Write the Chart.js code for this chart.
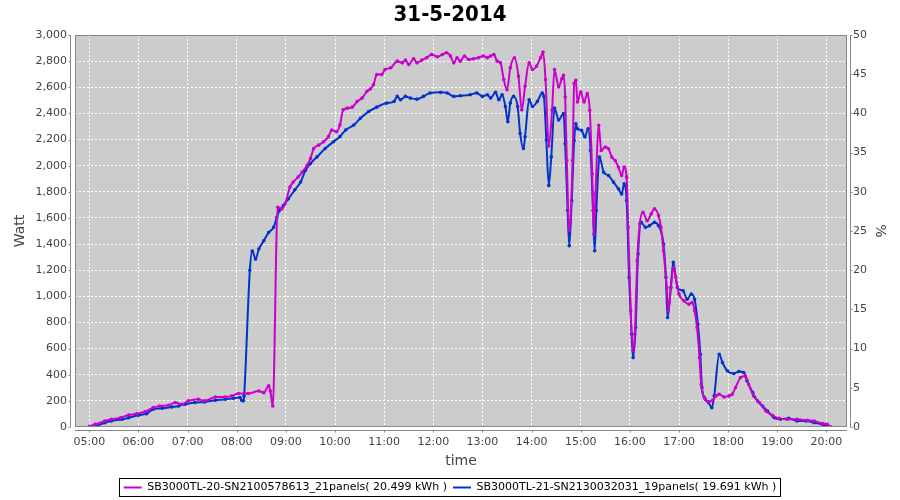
<!DOCTYPE html>
<html>
<head>
<meta charset="utf-8">
<script src="https://cdn.jsdelivr.net/npm/chart.js@4.4.0/dist/chart.umd.min.js"></script>
<style>
  html, body { margin: 0; padding: 0; background: #fff; }
</style>
</head>
<body>
<canvas id="pvChart" width="900" height="500"></canvas>
<script>
// Titre et noms des onduleurs
const chartTitle = "31-5-2014";
const seriesNames = [
  "SB3000TL-20-SN2100578613_21panels( 20.499 kWh )",
  "SB3000TL-21-SN2130032031_19panels( 19.691 kWh )"
];

// Axe du temps (heures affichées)
const hourTicks = [5, 6, 7, 8, 9, 10, 11, 12, 13, 14, 15, 16, 17, 18, 19, 20];

// Onduleur SB3000TL-20 (magenta)
const inv20Times = ['05:00','05:07','05:19','05:27','05:38','05:48','05:58','06:08','06:18','06:26','06:37','06:45','06:53','07:01','07:13','07:21','07:34','07:46','07:54','08:02','08:14','08:27','08:33','08:39','08:41','08:44','08:50','08:55','08:59','09:05','09:09','09:15','09:20','09:26','09:30','09:34','09:40','09:46','09:52','09:56','10:02','10:06','10:10','10:15','10:21','10:27','10:33','10:39','10:43','10:47','10:51','10:57','11:01','11:08','11:16','11:22','11:26','11:30','11:36','11:40','11:46','11:52','11:58','12:05','12:11','12:16','12:21','12:25','12:29','12:33','12:38','12:43','12:49','12:55','13:01','13:06','13:10','13:14','13:18','13:22','13:26','13:30','13:34','13:39','13:44','13:48','13:52','13:57','14:01','14:06','14:11','14:14','14:17','14:21','14:25','14:28','14:33','14:37','14:39','14:41','14:43','14:46','14:50','14:52','14:54','14:56','15:00','15:04','15:08','15:11','15:14','15:16','15:18','15:22','15:25','15:30','15:34','15:38','15:42','15:46','15:50','15:53','15:56','15:58','16:01','16:04','16:06','16:09','16:12','16:16','16:21','16:26','16:30','16:35','16:38','16:41','16:45','16:47','16:50','16:53','16:56','17:00','17:06','17:12','17:16','17:19','17:22','17:25','17:27','17:31','17:36','17:41','17:45','17:49','17:55','18:01','18:05','18:09','18:15','18:21','18:25','18:31','18:38','18:46','18:54','19:02','19:12','19:24','19:37','19:45','19:55','20:01','20:06'];
const inv20Watt = [5,20,46,59,71,92,102,117,148,161,166,187,174,200,212,200,230,230,238,256,256,276,263,315,276,161,1682,1669,1708,1836,1875,1913,1952,2003,2054,2131,2157,2183,2222,2273,2260,2311,2427,2440,2448,2491,2517,2569,2587,2620,2697,2697,2736,2749,2800,2787,2808,2774,2818,2787,2808,2826,2851,2833,2851,2864,2839,2787,2826,2800,2839,2813,2818,2826,2839,2826,2839,2851,2800,2787,2659,2581,2749,2826,2684,2427,2607,2787,2736,2761,2826,2869,2659,2150,2424,2736,2603,2667,2692,2526,2040,1503,2040,2628,2654,2487,2564,2487,2551,2424,1938,1477,1784,2308,2117,2142,2129,2065,2040,1989,1925,1989,1912,1528,889,582,710,1273,1554,1643,1579,1631,1669,1618,1528,1349,1068,889,1068,1221,1145,1017,966,940,953,889,761,532,327,225,194,205,238,251,230,238,251,302,378,391,327,238,187,123,90,66,59,59,51,46,26,20,0];

// Onduleur SB3000TL-21 (bleu)
const inv21Times = ['05:05','05:09','05:19','05:27','05:40','05:48','06:00','06:10','06:18','06:29','06:41','06:49','06:57','07:09','07:21','07:34','07:46','07:56','08:04','08:06','08:08','08:09','08:16','08:19','08:23','08:27','08:33','08:39','08:45','08:49','08:52','08:57','09:03','09:11','09:18','09:24','09:30','09:38','09:48','09:58','10:06','10:13','10:23','10:31','10:41','10:51','11:03','11:12','11:16','11:20','11:26','11:32','11:40','11:48','11:56','12:09','12:17','12:25','12:33','12:45','12:53','13:00','13:06','13:10','13:16','13:20','13:24','13:28','13:31','13:34','13:38','13:43','13:46','13:50','13:52','13:57','14:01','14:07','14:13','14:15','14:18','14:21','14:24','14:28','14:33','14:39','14:41','14:44','14:46','14:49','14:52','14:54','14:56','15:01','15:05','15:09','15:12','15:15','15:17','15:19','15:23','15:28','15:34','15:40','15:46','15:50','15:53','15:56','15:59','16:02','16:04','16:07','16:10','16:14','16:19','16:24','16:30','16:35','16:41','16:44','16:46','16:50','16:53','16:58','17:05','17:10','17:15','17:19','17:23','17:26','17:28','17:32','17:36','17:40','17:43','17:49','17:53','17:59','18:07','18:13','18:19','18:23','18:30','18:36','18:42','18:48','18:56','19:04','19:14','19:24','19:35','19:45','19:55','20:00'];
const inv21Watt = [0,8,33,46,59,71,90,102,136,143,153,161,174,187,192,205,212,220,225,205,200,238,1200,1347,1285,1362,1425,1489,1528,1605,1656,1695,1746,1815,1875,1965,2016,2067,2131,2183,2222,2273,2311,2363,2414,2448,2479,2491,2530,2504,2530,2517,2509,2530,2556,2561,2556,2530,2535,2543,2556,2530,2543,2517,2561,2504,2543,2453,2337,2479,2530,2453,2247,2131,2221,2504,2453,2491,2556,2530,2196,1849,2067,2440,2350,2398,2168,1656,1388,1733,2193,2321,2283,2270,2219,2283,2117,1656,1349,1656,2065,1950,1925,1874,1823,1784,1861,1733,1145,710,531,761,1324,1566,1528,1541,1566,1541,1400,1145,838,1068,1260,1068,1042,978,1017,978,787,557,302,212,187,148,238,557,494,430,409,425,417,353,263,199,161,123,72,59,66,46,46,33,20,3];

if (inv20Times.length !== inv20Watt.length || inv21Times.length !== inv21Watt.length) {
  throw new Error("lengths " + inv20Times.length + "/" + inv20Watt.length + " " + inv21Times.length + "/" + inv21Watt.length);
}

// "HH:MM" -> heures décimales
function toHours(s) {
  const [h, m] = s.split(":").map(Number);
  return h + m / 60;
}
function toPoints(times, values) {
  return times.map((t, i) => ({ x: toHours(t), y: values[i] }));
}
function fmtHour(v) {
  const h = Math.round(v);
  return (h < 10 ? "0" : "") + h + ":00";
}

const tickFont = { family: '"DejaVu Sans", sans-serif', size: 11 };
const axisFont = { family: '"DejaVu Sans", sans-serif', size: 14 };
const textColor = "#444444";

// Fond gris, cadre et axes décalés façon JFreeChart
const plotFrame = {
  id: "plotFrame",
  beforeDraw(chart) {
    const { ctx, chartArea: a } = chart;
    ctx.save();
    ctx.fillStyle = "#cccccc";
    ctx.fillRect(a.left, a.top, a.right - a.left, a.bottom - a.top);
    ctx.restore();
  },
  afterDraw(chart) {
    const { ctx, chartArea: a, scales } = chart;
    ctx.save();
    ctx.strokeStyle = "#888888";
    ctx.lineWidth = 1;
    ctx.strokeRect(a.left + 0.5, a.top + 0.5, a.right - a.left - 1, a.bottom - a.top - 1);

    const lx = a.left - 4.5, rx = a.right + 3.5, by = a.bottom + 3.5;
    ctx.beginPath();
    ctx.moveTo(lx, a.top); ctx.lineTo(lx, a.bottom);
    scales.y.ticks.forEach(t => {
      const py = Math.round(scales.y.getPixelForValue(t.value)) + 0.5;
      ctx.moveTo(lx - 2, py); ctx.lineTo(lx, py);
    });
    ctx.moveTo(rx, a.top); ctx.lineTo(rx, a.bottom);
    scales.y2.ticks.forEach(t => {
      const py = Math.round(scales.y2.getPixelForValue(t.value)) + 0.5;
      ctx.moveTo(rx, py); ctx.lineTo(rx + 2, py);
    });
    ctx.moveTo(a.left, by); ctx.lineTo(a.right, by);
    scales.x.ticks.forEach(t => {
      const px = Math.round(scales.x.getPixelForValue(t.value)) + 0.5;
      ctx.moveTo(px, by); ctx.lineTo(px, by + 2);
    });
    ctx.stroke();

    // cadre de la légende
    const boxes = chart.legend.legendHitBoxes;
    if (boxes && boxes.length) {
      const first = boxes[0], last = boxes[boxes.length - 1];
      const x0 = Math.round(first.left) - 4.5;
      const x1 = Math.round(last.left + last.width) + 4.5;
      const y0 = Math.round(first.top) - 3.5;
      const y1 = Math.round(first.top + first.height) + 3.5;
      ctx.strokeStyle = "#000000";
      ctx.strokeRect(x0, y0, x1 - x0, y1 - y0);
    }
    ctx.restore();
  }
};

const ctx = document.getElementById("pvChart").getContext("2d");
const pvChart = new Chart(ctx, {
  type: "line",
  data: {
    datasets: [{
      label: seriesNames[0],
      data: toPoints(inv20Times, inv20Watt),
      borderColor: "#cc00cc",
      backgroundColor: "#cc00cc",
      borderWidth: 2,
      pointRadius: 0.8,
      pointHoverRadius: 0.8,
      cubicInterpolationMode: "monotone",
      yAxisID: "y"
    }, {
      label: seriesNames[1],
      data: toPoints(inv21Times, inv21Watt),
      borderColor: "#0033cc",
      backgroundColor: "#0033cc",
      borderWidth: 2,
      pointRadius: 0.8,
      pointHoverRadius: 0.8,
      cubicInterpolationMode: "monotone",
      yAxisID: "y"
    }]
  },
  options: {
    responsive: false,
    animation: false,
    devicePixelRatio: 1,
    layout: { padding: { top: 0, left: 0, right: 0, bottom: -3 } },
    plugins: {
      title: {
        display: true,
        text: chartTitle,
        color: "#000000",
        font: { family: '"DejaVu Sans Condensed", "Liberation Sans Narrow", "DejaVu Sans", sans-serif', size: 22, weight: "bold", lineHeight: 1 },
        padding: { top: 4, bottom: 9 }
      },
      legend: {
        position: "bottom",
        labels: {
          usePointStyle: true,
          pointStyle: "line",
          pointStyleWidth: 18,
          boxHeight: 11,
          padding: 6,
          color: "#000000",
          font: tickFont
        }
      },
      tooltip: { enabled: false }
    },
    scales: {
      x: {
        type: "linear",
        min: 4.709,
        max: 20.418,
        afterBuildTicks: scale => { scale.ticks = hourTicks.map(h => ({ value: h })); },
        afterFit: scale => { scale.height = 49; },
        ticks: { color: textColor, font: tickFont, padding: 3, maxRotation: 0, autoSkip: false, callback: v => fmtHour(v) },
        grid: { color: "#ffffff", lineWidth: 1, tickLength: 6, tickColor: "transparent", borderDash: [2, 2] },
        border: { display: false, dash: [2, 2] },
        title: { display: true, text: "time", color: textColor, font: axisFont, padding: { top: 0, bottom: 6 } }
      },
      y: {
        position: "left",
        min: 0,
        max: 3000,
        afterFit: scale => { scale.width = 75; },
        ticks: { stepSize: 200, color: textColor, font: tickFont, padding: 4, callback: v => v.toLocaleString("en-US") },
        grid: { color: "#ffffff", lineWidth: 1, tickLength: 4, tickColor: "transparent", borderDash: [2, 2] },
        border: { display: false, dash: [2, 2] },
        title: { display: true, text: "Watt", color: textColor, font: axisFont, padding: { top: 12, bottom: 0 } }
      },
      y2: {
        position: "right",
        min: 0,
        max: 50,
        afterFit: scale => { scale.width = 53; },
        ticks: { stepSize: 5, color: textColor, font: tickFont, padding: 2 },
        grid: { drawOnChartArea: false, tickLength: 4, tickColor: "transparent" },
        border: { display: false },
        title: { display: true, text: "%", color: textColor, font: axisFont, padding: { top: 12, bottom: 0 } }
      }
    }
  },
  plugins: [plotFrame]
});
</script>
</body>
</html>
